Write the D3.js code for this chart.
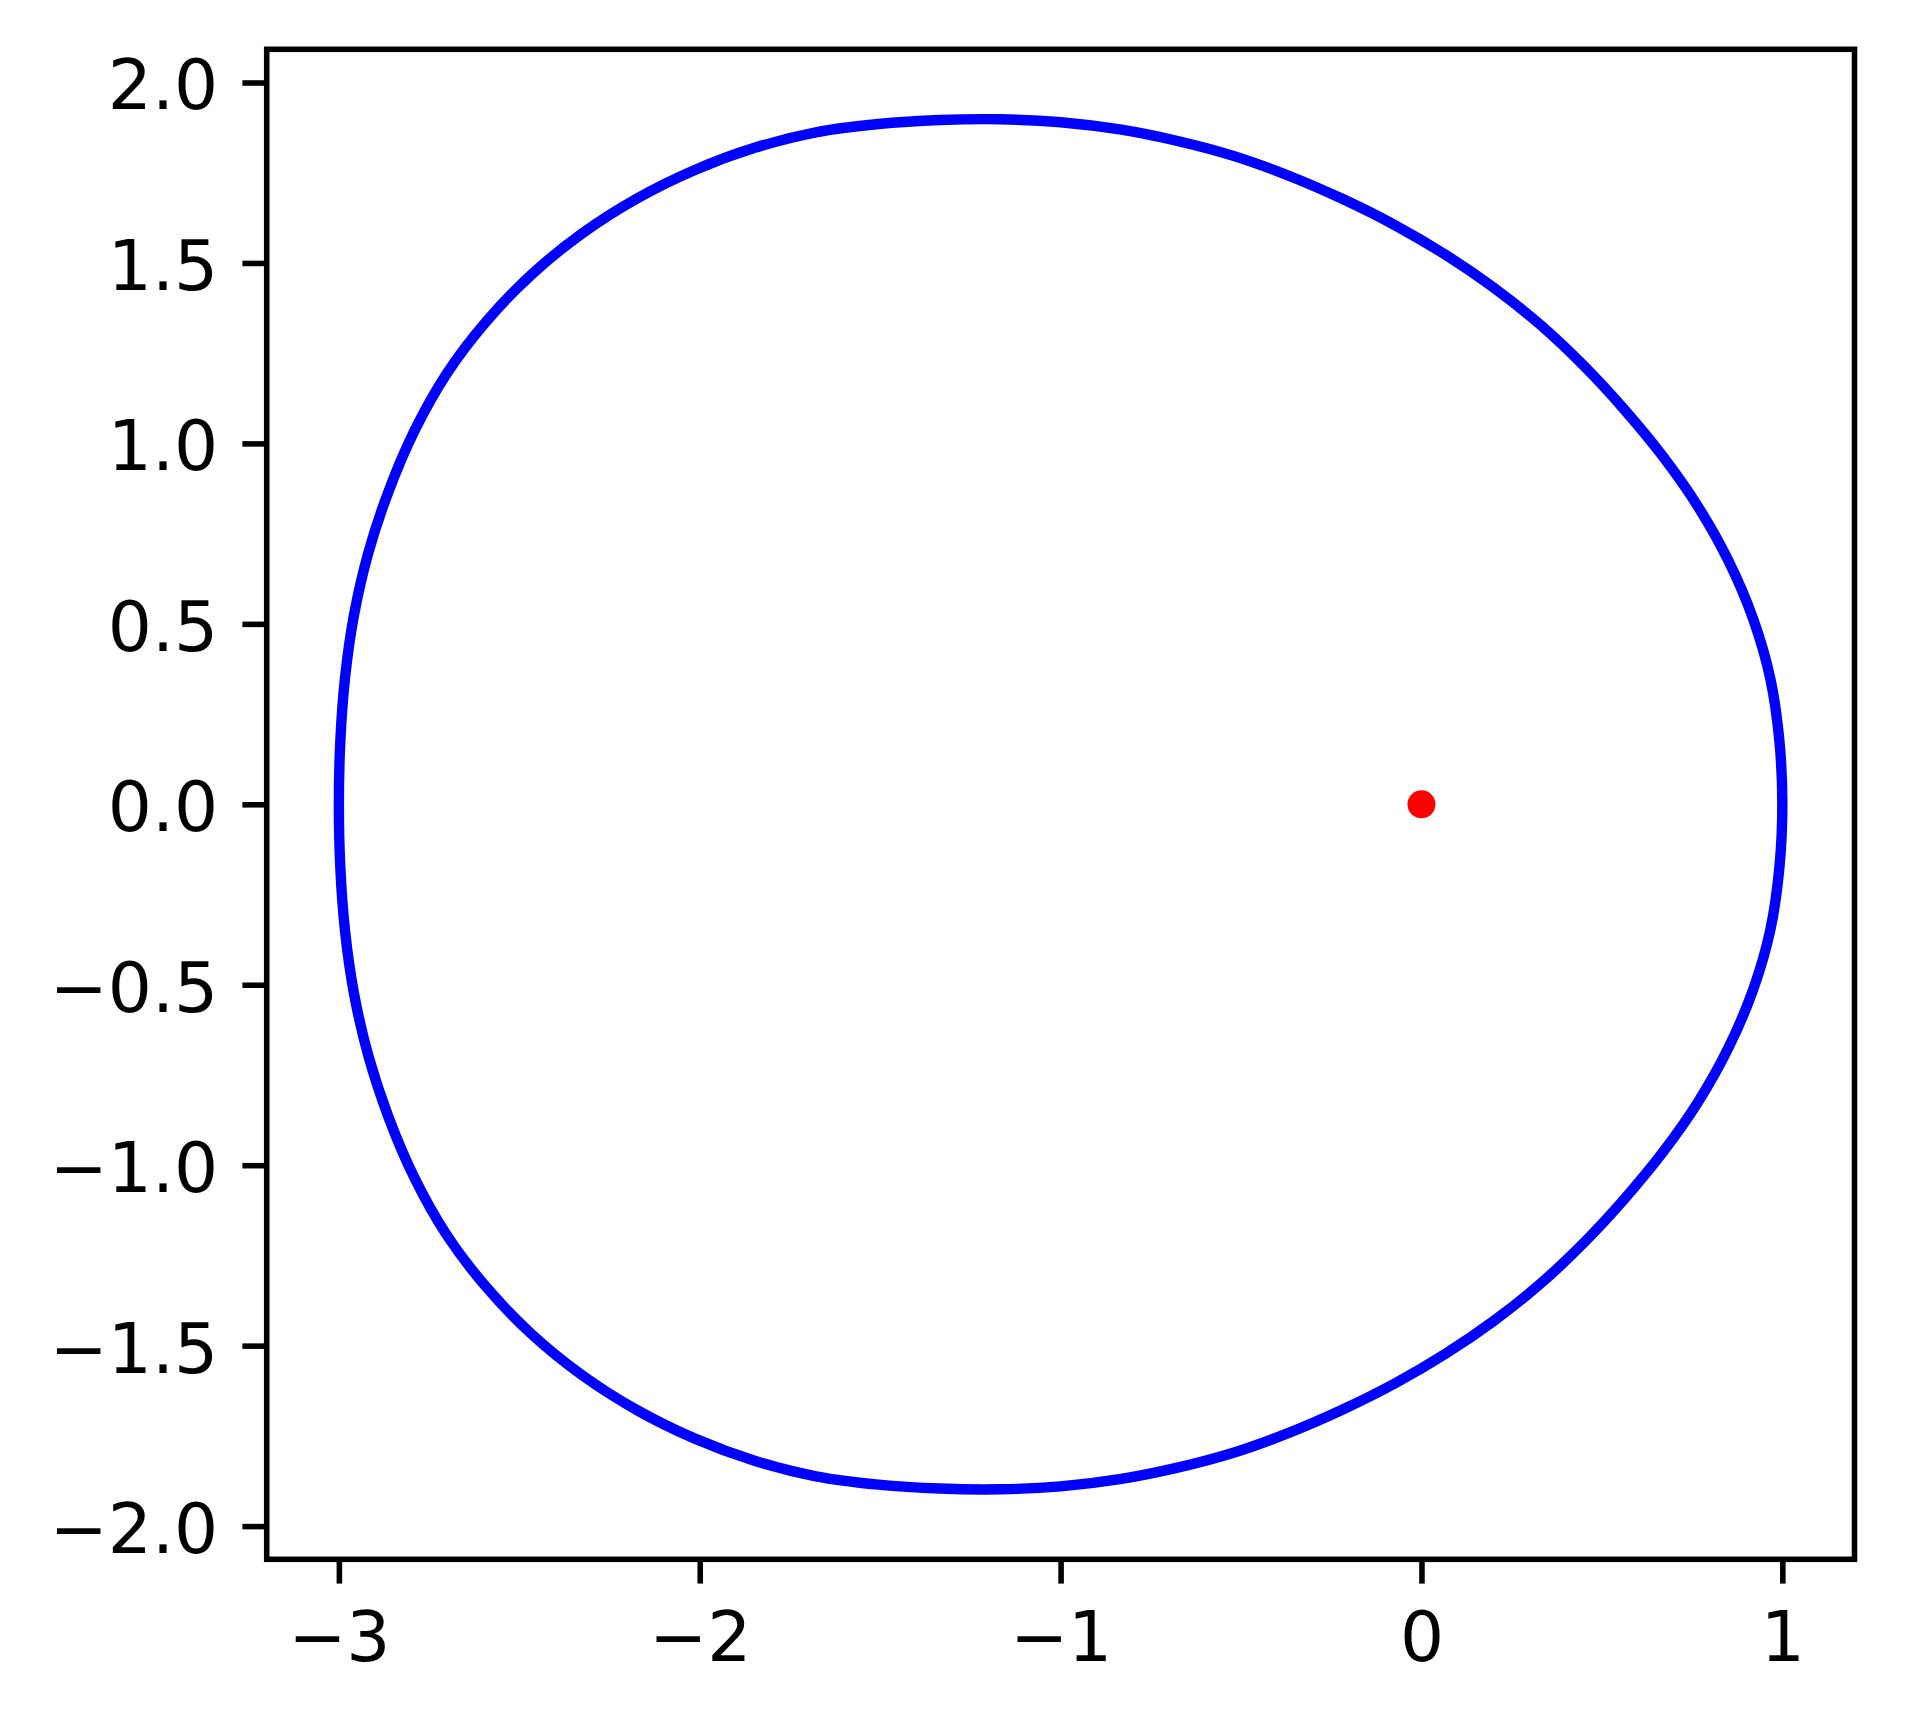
<!DOCTYPE html>
<html>
<head>
<meta charset="utf-8">
<script src="https://cdn.jsdelivr.net/npm/d3@7"></script>
<style>
  body { margin: 0; background: #fff; }
  svg { display: block; }
</style>
</head>
<body>
<svg id="chart" width="1905" height="1725"></svg>
<script>
// upper half of the closed curve (left to right)
const upperX = [-3.000, -2.996, -2.983, -2.958, -2.918, -2.862, -2.791, -2.702, -2.593, -2.467,
    -2.327, -2.175, -2.015, -1.848, -1.678, -1.505, -1.334, -1.166, -1.000, -0.836,
    -0.676, -0.519, -0.366, -0.218, -0.074, 0.066, 0.201, 0.329, 0.449, 0.562,
    0.669, 0.767, 0.851, 0.919, 0.967, 0.992, 1.000];
const upperY = [0.000, 0.175, 0.350, 0.525, 0.698, 0.868, 1.034, 1.192, 1.336, 1.467,
    1.581, 1.678, 1.757, 1.819, 1.862, 1.885, 1.896, 1.898, 1.890, 1.870,
    1.838, 1.796, 1.741, 1.677, 1.605, 1.523, 1.431, 1.329, 1.216, 1.094,
    0.964, 0.824, 0.674, 0.514, 0.347, 0.174, 0.000];

// lower half, right to left
const lowerX = [0.992, 0.967, 0.919, 0.851, 0.767, 0.669, 0.562, 0.449, 0.329, 0.201,
    0.066, -0.074, -0.218, -0.366, -0.519, -0.676, -0.836, -1.000, -1.166, -1.334,
    -1.505, -1.678, -1.848, -2.015, -2.175, -2.327, -2.467, -2.593, -2.702, -2.791,
    -2.862, -2.918, -2.958, -2.983, -2.996];
const lowerY = [-0.174, -0.347, -0.514, -0.674, -0.824, -0.964, -1.094, -1.216, -1.329, -1.431,
    -1.523, -1.605, -1.677, -1.741, -1.796, -1.838, -1.870, -1.890, -1.898, -1.896,
    -1.885, -1.862, -1.819, -1.757, -1.678, -1.581, -1.467, -1.336, -1.192, -1.034,
    -0.868, -0.698, -0.525, -0.350, -0.175];

// the red point
const pointX = [0];
const pointY = [0];

const xTicks = [-3, -2, -1, 0, 1];
const yTicks = [-2.0, -1.5, -1.0, -0.5, 0.0, 0.5, 1.0, 1.5, 2.0];

const svg = d3.select('#chart');
const plot = { left: 266.7, right: 1854.5, top: 49.3, bottom: 1559.3 };
const fontSize = 69.4;
const tickLen = 24.3;
const tickW = 5.56;

const x = d3.scaleLinear()
    .domain([-3.2, 1.2])
    .range([plot.left, plot.right]);

const y = d3.scaleLinear()
    .domain([-2.092, 2.092])
    .range([plot.bottom, plot.top]);

svg.append('rect')
    .attr('width', 1905)
    .attr('height', 1725)
    .attr('fill', '#fff');

const pts = upperX.map((d, i) => [d, upperY[i]])
    .concat(lowerX.map((d, i) => [d, lowerY[i]]));

const line = d3.line()
    .x(d => x(d[0]))
    .y(d => y(d[1]))
    .curve(d3.curveCatmullRomClosed.alpha(0.5));

svg.append('path')
    .datum(pts)
    .attr('d', line)
    .attr('fill', 'none')
    .attr('stroke', '#0000ff')
    .attr('stroke-width', 10.4)
    .attr('stroke-linejoin', 'round');

svg.append('g')
    .selectAll('circle')
    .data(pointX.map((d, i) => [d, pointY[i]]))
    .join('circle')
    .attr('cx', d => x(d[0]))
    .attr('cy', d => y(d[1]))
    .attr('r', 14)
    .attr('fill', '#ff0000');

// axes
const xAxis = svg.append('g')
    .attr('transform', `translate(0,${plot.bottom})`)
    .call(d3.axisBottom(x)
        .tickValues(xTicks)
        .tickFormat(d3.format('d'))
        .tickSize(tickLen)
        .tickPadding(tickLen)
        .tickSizeOuter(0));

const yAxis = svg.append('g')
    .attr('transform', `translate(${plot.left},0)`)
    .call(d3.axisLeft(y)
        .tickValues(yTicks)
        .tickFormat(d3.format('.1f'))
        .tickSize(tickLen)
        .tickPadding(tickLen)
        .tickSizeOuter(0));

[xAxis, yAxis].forEach(g => {
    g.select('.domain').remove();
    g.selectAll('.tick line')
        .attr('stroke', '#000')
        .attr('stroke-width', tickW);
    g.selectAll('.tick text')
        .attr('fill', '#000')
        .style('font-family', '"DejaVu Sans", sans-serif')
        .style('font-size', fontSize + 'px');
});
xAxis.selectAll('.tick text').attr('dy', '0.76em');
yAxis.selectAll('.tick text').attr('dy', '0.38em');

// frame
svg.append('rect')
    .attr('x', plot.left)
    .attr('y', plot.top)
    .attr('width', plot.right - plot.left)
    .attr('height', plot.bottom - plot.top)
    .attr('fill', 'none')
    .attr('stroke', '#000')
    .attr('stroke-width', tickW)
    .attr('stroke-linejoin', 'miter');
</script>
</body>
</html>
